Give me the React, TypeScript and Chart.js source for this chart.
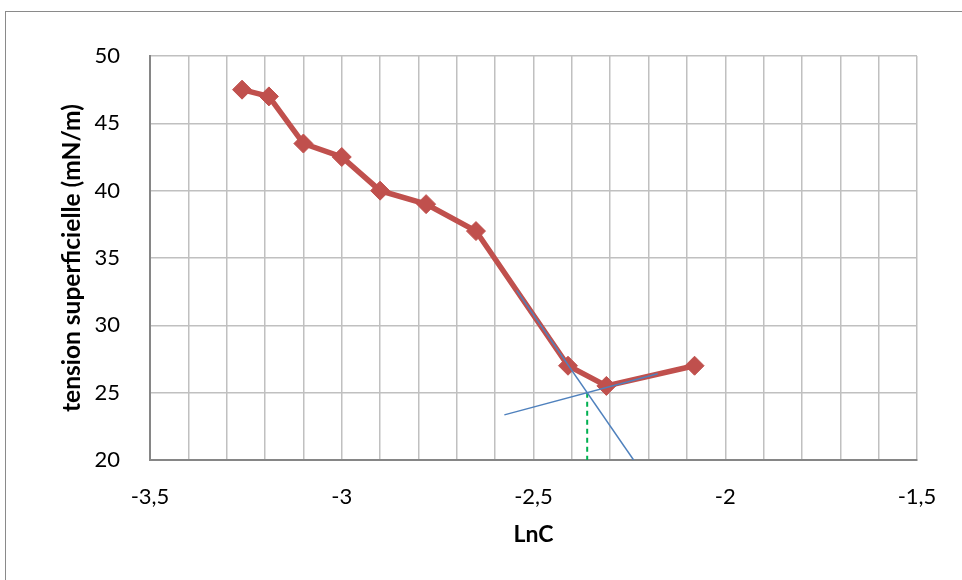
import React, { useEffect, useRef } from "react";
import { Chart, registerables } from "chart.js";

Chart.register(...registerables);

// Main series: LnC vs surface tension
const lnC = [-3.26, -3.19, -3.1, -3.0, -2.9, -2.78, -2.65, -2.41, -2.31, -2.08];
const tension = [47.5, 47, 43.5, 42.5, 40, 39, 37, 27, 25.5, 27];

// Tangent lines (blue) and CMC marker (green dashed)
const tangent1X = [-2.544, -2.239];
const tangent1Y = [32.6, 20];
const tangent2X = [-2.576, -2.176];
const tangent2Y = [23.35, 26.4];
const cmcX = [-2.36, -2.36];
const cmcY = [25.0, 20];

const xMin = -3.5;
const xMax = -1.5;
const yMin = 20;
const yMax = 50;

const toPts = (xs: number[], ys: number[]) => xs.map((x, i) => ({ x, y: ys[i] }));

export default function App() {
  const ref = useRef<HTMLCanvasElement | null>(null);

  useEffect(() => {
    if (!ref.current) return;
    const font = "Lato, 'Open Sans', sans-serif";
    const chart = new Chart(ref.current, {
      type: "scatter",
      data: {
        datasets: [
          {
            data: toPts(tangent1X, tangent1Y),
            showLine: true,
            borderColor: "#4f81bd",
            borderWidth: 1.5,
            pointRadius: 0,
            order: 1,
          },
          {
            data: toPts(tangent2X, tangent2Y),
            showLine: true,
            borderColor: "#4f81bd",
            borderWidth: 1.5,
            pointRadius: 0,
            order: 1,
          },
          {
            data: toPts(cmcX, cmcY),
            showLine: true,
            borderColor: "#00b050",
            borderWidth: 2,
            borderDash: [5, 4],
            pointRadius: 0,
            order: 1,
          },
          {
            data: toPts(lnC, tension),
            showLine: true,
            borderColor: "#c0504d",
            borderWidth: 5.5,
            pointStyle: "rectRot",
            pointRadius: 9.5,
            pointBackgroundColor: "#c0504d",
            pointBorderColor: "#c0504d",
            pointBorderWidth: 1,
            order: 2,
          },
        ],
      },
      options: {
        responsive: false,
        animation: false,
        layout: { padding: { top: 56, right: 45, left: 0, bottom: 0 } },
        plugins: { legend: { display: false }, tooltip: { enabled: false } },
        scales: {
          x: {
            type: "linear",
            min: xMin,
            max: xMax,
            afterFit: (s: any) => {
              s.height = 120;
            },
            grid: { color: "#c0c0c0", lineWidth: 1.5, drawTicks: false },
            border: { color: "#868686", width: 2 },
            ticks: {
              stepSize: 0.1,
              autoSkip: false,
              maxRotation: 0,
              padding: 24,
              color: "#000",
              font: { family: font, size: 22 },
              callback: (v: any) => {
                const r = Math.round(Number(v) * 10);
                return r % 5 === 0 ? String(r / 10).replace(".", ",") : "";
              },
            },
            title: {
              display: true,
              text: "LnC",
              color: "#000",
              font: { family: font, size: 23, weight: "bold" },
              padding: { top: 0, bottom: 32 },
            },
          },
          y: {
            type: "linear",
            min: yMin,
            max: yMax,
            afterFit: (s: any) => {
              s.width = 150;
            },
            grid: { color: "#c0c0c0", lineWidth: 1.5, drawTicks: false },
            border: { color: "#868686", width: 2 },
            ticks: {
              stepSize: 5,
              padding: 30,
              color: "#000",
              font: { family: font, size: 22 },
            },
            title: {
              display: true,
              text: "tension superficielle (mN/m)",
              color: "#000",
              font: { family: font, size: 24.5, weight: "bold" },
              padding: { top: 57, bottom: 0 },
            },
          },
        },
      },
    } as any);
    return () => chart.destroy();
  }, []);

  return (
    <div style={{ position: "fixed", left: 0, top: 0, width: 962, height: 580, background: "#fff" }}>
      <div
        style={{
          position: "absolute",
          left: 5,
          top: 11,
          width: 970,
          height: 600,
          borderLeft: "1.5px solid #8a8a8a",
          borderTop: "1.5px solid #8a8a8a",
        }}
      />
      <canvas ref={ref} width={962} height={580} style={{ position: "absolute", left: 0, top: 0 }} />
    </div>
  );
}
